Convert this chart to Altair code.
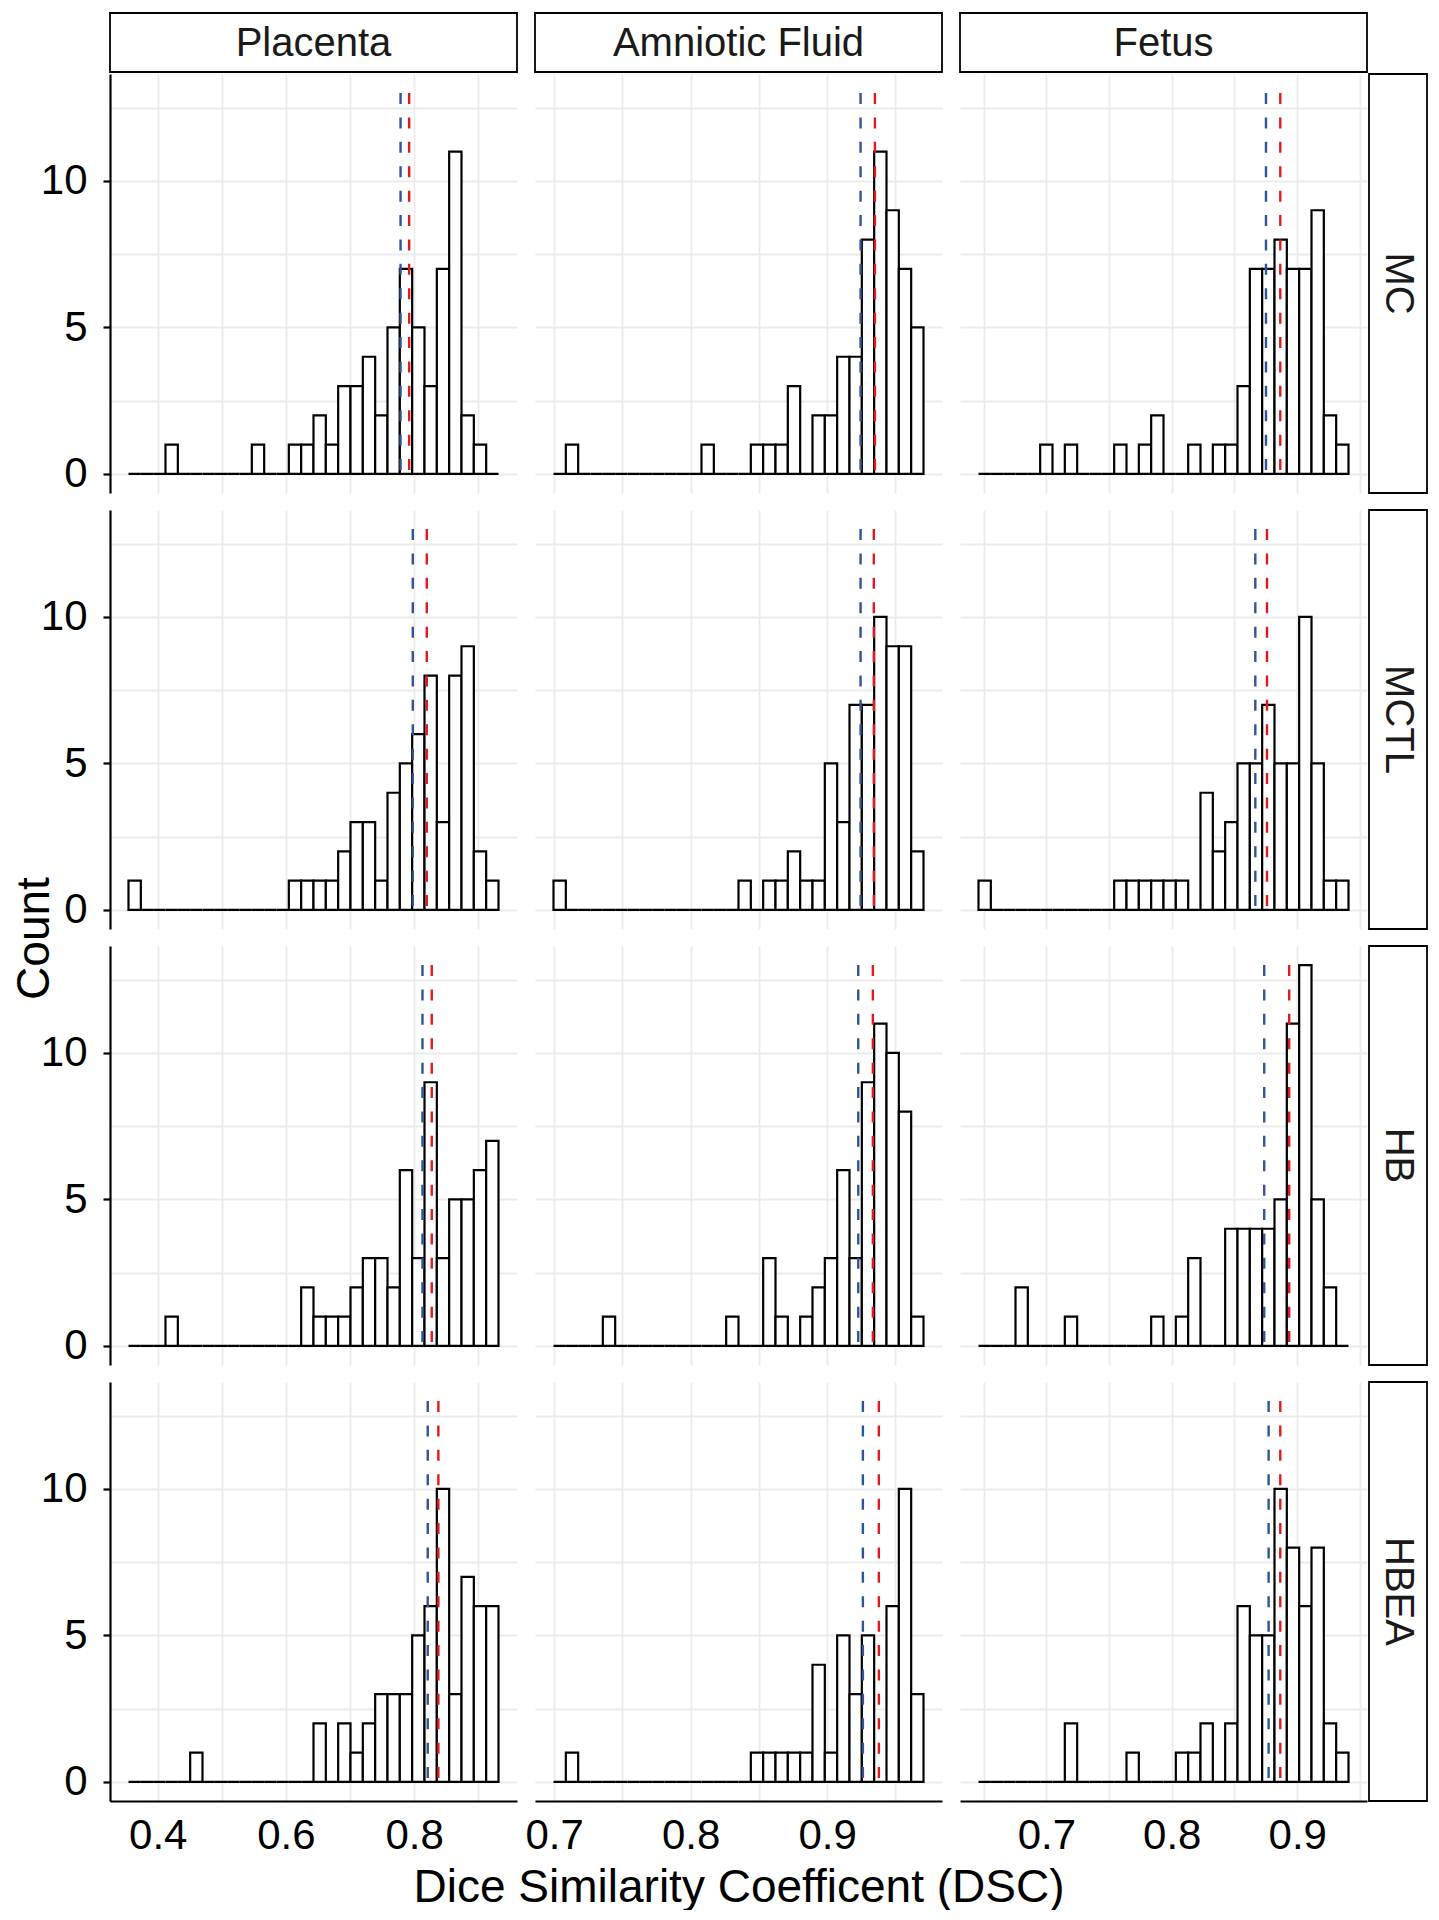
import altair as alt
import pandas as pd

FONT = "Liberation Sans"
GRID = "#EBEBEB"
BLUE = "#2F5597"
RED = "#E31A1C"

columns = ["Placenta", "Amniotic Fluid", "Fetus"]
rows = ["MC", "MCTL", "HB", "HBEA"]

# histogram bins (30 per panel, shared within a column): first edge and bin width
bin_lo = [0.3544, 0.6995, 0.6459]
bin_w = [0.01924, 0.009037, 0.009833]
N_BINS = 30

# counts per bin
placenta_mc = [0, 0, 0, 1, 0, 0, 0, 0, 0, 0, 1, 0, 0, 1, 1, 2, 1, 3, 3, 4, 2, 5, 7, 5, 3, 7, 11, 2, 1, 0]
placenta_mctl = [1, 0, 0, 0, 0, 0, 0, 0, 0, 0, 0, 0, 0, 1, 1, 1, 1, 2, 3, 3, 1, 4, 5, 6, 8, 3, 8, 9, 2, 1]
placenta_hb = [0, 0, 0, 1, 0, 0, 0, 0, 0, 0, 0, 0, 0, 0, 2, 1, 1, 1, 2, 3, 3, 2, 6, 3, 9, 3, 5, 5, 6, 7]
placenta_hbea = [0, 0, 0, 0, 0, 1, 0, 0, 0, 0, 0, 0, 0, 0, 0, 2, 0, 2, 1, 2, 3, 3, 3, 5, 6, 10, 3, 7, 6, 6]

af_mc = [0, 1, 0, 0, 0, 0, 0, 0, 0, 0, 0, 0, 1, 0, 0, 0, 1, 1, 1, 3, 0, 2, 2, 4, 4, 8, 11, 9, 7, 5]
af_mctl = [1, 0, 0, 0, 0, 0, 0, 0, 0, 0, 0, 0, 0, 0, 0, 1, 0, 1, 1, 2, 1, 1, 5, 3, 7, 7, 10, 9, 9, 2]
af_hb = [0, 0, 0, 0, 1, 0, 0, 0, 0, 0, 0, 0, 0, 0, 1, 0, 0, 3, 1, 0, 1, 2, 3, 6, 3, 9, 11, 10, 8, 1]
af_hbea = [0, 1, 0, 0, 0, 0, 0, 0, 0, 0, 0, 0, 0, 0, 0, 0, 1, 1, 1, 1, 1, 4, 1, 5, 3, 5, 0, 6, 10, 3]

fetus_mc = [0, 0, 0, 0, 0, 1, 0, 1, 0, 0, 0, 1, 0, 1, 2, 0, 0, 1, 0, 1, 1, 3, 7, 7, 8, 7, 7, 9, 2, 1]
fetus_mctl = [1, 0, 0, 0, 0, 0, 0, 0, 0, 0, 0, 1, 1, 1, 1, 1, 1, 0, 4, 2, 3, 5, 5, 7, 5, 5, 10, 5, 1, 1]
fetus_hb = [0, 0, 0, 2, 0, 0, 0, 1, 0, 0, 0, 0, 0, 0, 1, 0, 1, 3, 0, 0, 4, 4, 4, 4, 5, 11, 13, 5, 2, 0]
fetus_hbea = [0, 0, 0, 0, 0, 0, 0, 2, 0, 0, 0, 0, 1, 0, 0, 0, 1, 1, 2, 0, 2, 6, 5, 5, 10, 8, 6, 8, 2, 1]

counts = {
    "Placenta": [placenta_mc, placenta_mctl, placenta_hb, placenta_hbea],
    "Amniotic Fluid": [af_mc, af_mctl, af_hb, af_hbea],
    "Fetus": [fetus_mc, fetus_mctl, fetus_hb, fetus_hbea],
}

# dashed reference lines (rows MC, MCTL, HB, HBEA)
blue_line = {
    "Placenta": [0.7788, 0.7979, 0.8130, 0.8212],
    "Amniotic Fluid": [0.9245, 0.9245, 0.9228, 0.9262],
    "Fetus": [0.8751, 0.8666, 0.8737, 0.8772],
}
red_line = {
    "Placenta": [0.7922, 0.8197, 0.8275, 0.8378],
    "Amniotic Fluid": [0.9350, 0.9342, 0.9335, 0.9379],
    "Fetus": [0.8865, 0.8759, 0.8936, 0.8865],
}

x_grid = [[0.4, 0.5, 0.6, 0.7, 0.8, 0.9],
          [0.7, 0.75, 0.8, 0.85, 0.9, 0.95],
          [0.65, 0.7, 0.75, 0.8, 0.85, 0.9, 0.95]]
x_major = [[0.4, 0.6, 0.8], [0.7, 0.8, 0.9], [0.7, 0.8, 0.9]]
y_grid = [0, 2.5, 5, 7.5, 10, 12.5]
y_domain = [-0.65, 13.65]
line_top = 13

PW, PH = 407, 419
STRIP = 59
SW = 42  # row-strip cell width


def x_domain(c):
    lo = bin_lo[c]
    hi = bin_lo[c] + N_BINS * bin_w[c]
    pad = 0.05 * (hi - lo)
    return [lo - pad, hi + pad]


def panel(r, c):
    col = columns[c]
    vals = counts[col][r]
    df = pd.DataFrame({
        "x0": [bin_lo[c] + i * bin_w[c] for i in range(N_BINS)],
        "x1": [bin_lo[c] + (i + 1) * bin_w[c] for i in range(N_BINS)],
        "count": vals,
    })
    left = c == 0
    bottom = r == len(rows) - 1
    xscale = alt.Scale(domain=x_domain(c), nice=False, zero=False)
    yscale = alt.Scale(domain=y_domain, nice=False, zero=False)

    xa = dict(values=x_grid[c], grid=True, gridColor=GRID, gridWidth=1.8,
              ticks=False, tickSize=0, domain=bottom, labels=bottom, labelOverlap=False)
    if bottom:
        test = " || ".join(f"abs(datum.value - {v}) < 1e-6" for v in x_major[c])
        xa.update(labelExpr=f"({test}) ? format(datum.value, '.1f') : ''",
                  labelFontSize=42, labelFont=FONT, labelColor="black",
                  labelBaseline="alphabetic", labelPadding=47,
                  domainColor="black", domainWidth=2.2)
    if bottom and c == 1:
        xa.update(titleFontSize=46, titleFont=FONT, titleColor="black",
                  titleFontWeight="normal", titleBaseline="alphabetic", titleY=100)
        xtitle = "Dice Similarity Coefficent (DSC)"
    else:
        xtitle = ""

    ya = dict(values=y_grid, grid=True, gridColor=GRID, gridWidth=1.8,
              domain=left, labels=left, ticks=left, labelOverlap=False)
    if left:
        ya.update(labelExpr="datum.value % 5 === 0 ? format(datum.value, 'd') : ''",
                  labelFontSize=42, labelFont=FONT, labelColor="black", labelPadding=16,
                  tickSize=7, tickWidth=2.2, tickColor="black",
                  tickOpacity={"condition": {"test": "datum.value % 5 === 0", "value": 1}, "value": 0},
                  domainColor="black", domainWidth=2.2)
    if left and r == 1:
        ya.update(titleFontSize=46, titleFont=FONT, titleColor="black", titleFontWeight="normal",
                  titleBaseline="alphabetic", titleX=-62, titleY=428, titleAngle=270)
        ytitle = "Count"
    else:
        ytitle = ""

    bars = alt.Chart(df).mark_rect(fill="white", stroke="black", strokeWidth=2.2).encode(
        x=alt.X("x0:Q", scale=xscale, axis=alt.Axis(**xa), title=xtitle),
        x2="x1:Q",
        y=alt.Y("count:Q", scale=yscale, axis=alt.Axis(**ya), title=ytitle),
        y2=alt.datum(0),
    )
    ldf_b = pd.DataFrame({"v": [blue_line[col][r]]})
    ldf_r = pd.DataFrame({"v": [red_line[col][r]]})
    rule_b = alt.Chart(ldf_b).mark_rule(color=BLUE, strokeWidth=2.4, strokeDash=[11, 13.4]).encode(
        x=alt.X("v:Q", title=xtitle),
        y=alt.YDatum(line_top, title=ytitle),
        y2=alt.datum(0),
    )
    rule_r = alt.Chart(ldf_r).mark_rule(color=RED, strokeWidth=2.4, strokeDash=[11, 13.4]).encode(
        x=alt.X("v:Q", title=xtitle),
        y=alt.YDatum(line_top, title=ytitle),
        y2=alt.datum(0),
    )
    return alt.layer(bars, rule_b, rule_r).properties(width=PW, height=PH)


def top_strip(name):
    d = pd.DataFrame({"label": [name]})
    box = alt.Chart(d).mark_rect(fill="white", stroke="black", strokeWidth=1.8).encode(
        x=alt.value(0), x2=alt.value(PW), y=alt.value(0), y2=alt.value(STRIP))
    txt = alt.Chart(d).mark_text(fontSize=40, font=FONT, color="#1A1A1A", baseline="middle").encode(
        text="label:N", x=alt.value(PW / 2), y=alt.value(STRIP / 2 + 1))
    return alt.layer(box, txt).properties(width=PW, height=44)


def right_strip(name):
    d = pd.DataFrame({"label": [name]})
    box = alt.Chart(d).mark_rect(fill="white", stroke="black", strokeWidth=1.8).encode(
        x=alt.value(-16), x2=alt.value(SW), y=alt.value(0), y2=alt.value(PH))
    txt = alt.Chart(d).mark_text(fontSize=40, font=FONT, color="#1A1A1A", angle=90,
                                 baseline="middle").encode(
        text="label:N", x=alt.value((SW - 16) / 2), y=alt.value(PH / 2))
    return alt.layer(box, txt).properties(width=SW, height=PH)


blank = alt.Chart(pd.DataFrame({"a": [0]})).mark_rect(opacity=0).encode(
    x=alt.value(0), x2=alt.value(10), y=alt.value(10), y2=alt.value(20)).properties(width=SW, height=44)

cells = [top_strip(c) for c in columns] + [blank]
for r, rname in enumerate(rows):
    cells += [panel(r, c) for c in range(3)] + [right_strip(rname)]

chart = alt.concat(*cells, columns=4, spacing={"row": 17, "column": 18},
                   bounds="flush", align="each").properties(
    padding={"left": 3, "top": 4, "right": 2, "bottom": 0},
    background="white",
).configure_view(strokeWidth=0)

chart.save("out.html", embed_options={"renderer": "svg", "actions": False})
